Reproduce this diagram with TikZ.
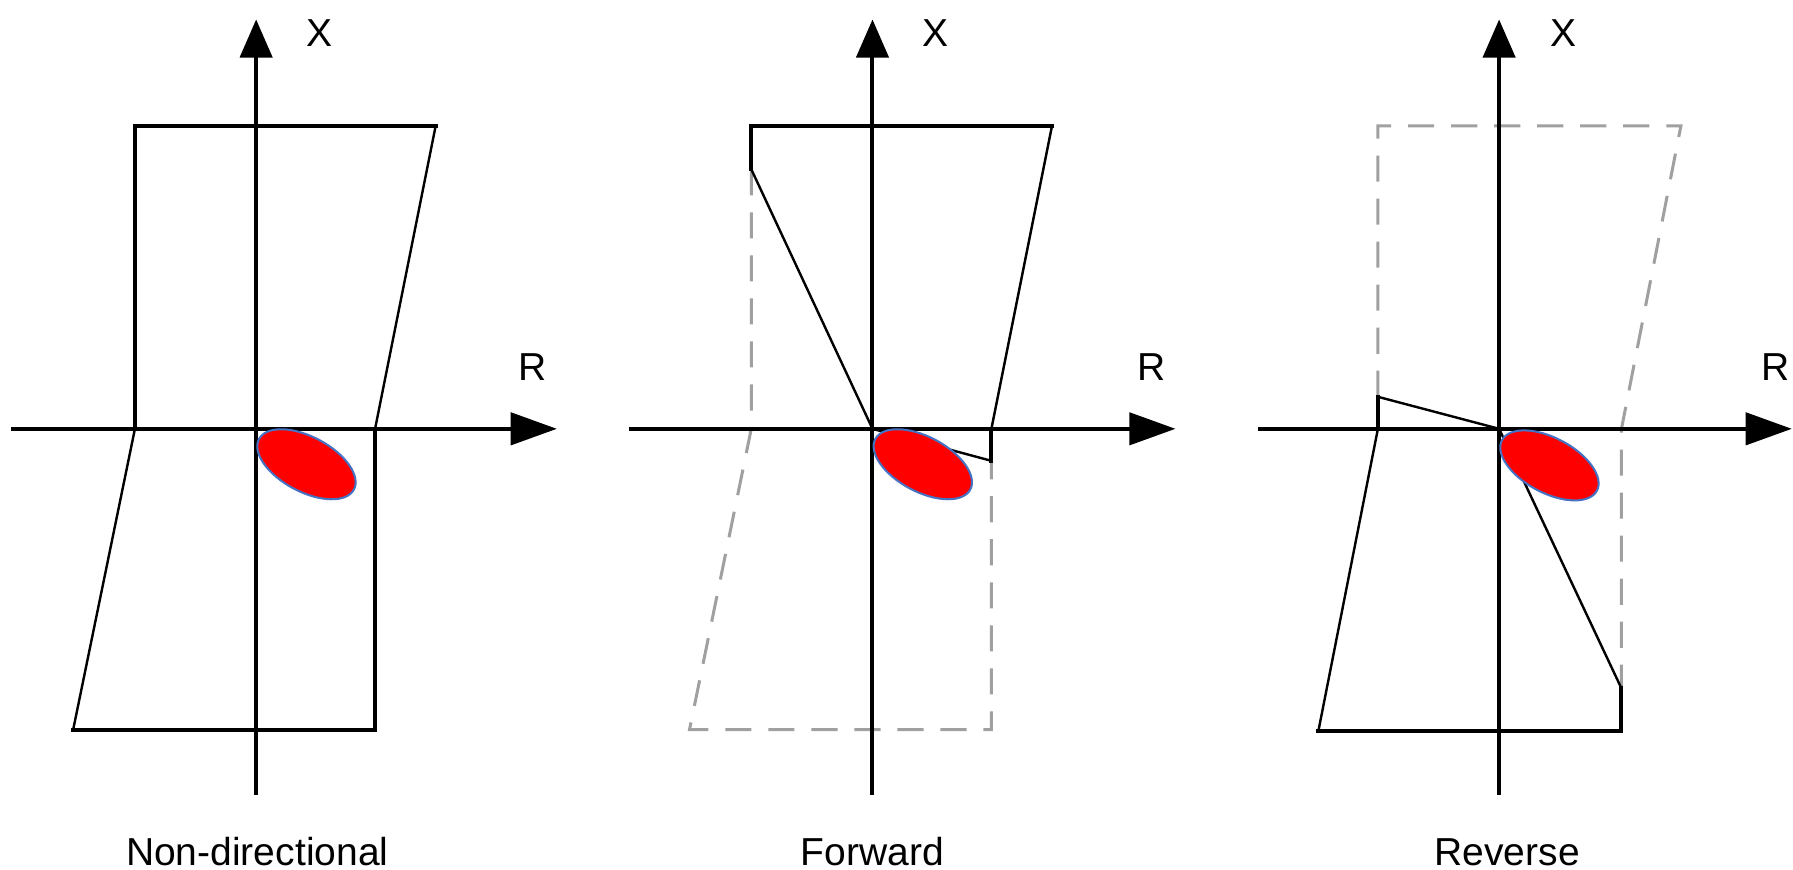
\documentclass[tikz,border=0pt]{standalone}
\usepackage{fontspec}
\setmainfont{Liberation Sans}
\usetikzlibrary{arrows.meta,shapes.geometric}
\definecolor{ghostgray}{RGB}{160,160,160}
\definecolor{blobblue}{RGB}{68,114,196}
\begin{document}
\begin{tikzpicture}[x=0.01cm,y=-0.01cm,
  vaxis/.style={line width=1pt,-{Triangle[length=9.5pt,width=8pt]}},
  haxis/.style={line width=1pt,-{Triangle[length=11.5pt,width=8pt]}},
  thick box/.style={line width=1pt,line join=miter,line cap=rect},
  thin box/.style={line width=0.6pt},
  ghost/.style={line width=0.75pt,ghostgray,dash pattern=on 6.5pt off 4.2pt},
  blob/.style={ellipse,draw=blobblue,line width=0.5pt,fill=red,minimum width=0.94cm,minimum height=0.48cm,inner sep=0pt,rotate=-28},
  lbl/.style={font=\fontsize{9.7}{11}\selectfont,inner sep=0pt,anchor=base}]
\useasboundingbox (0,0) rectangle (1568,760);
% ---------- Panel 1: Non-directional ----------
\coordinate (o1) at (224,375);
\coordinate (v1a) at (224,695); \coordinate (v1b) at (224,17);
\coordinate (h1a) at (10,375);  \coordinate (h1b) at (487,375);
\draw[thick box] (118,375) -- (118,110) -- (381,110);
\draw[thin box] (381,110) -- (328,375);
\draw[thin box] (118,375) -- (64,638);
\draw[thick box] (64,638) -- (328,638) -- (328,375);
\draw[vaxis] (v1a) -- (v1b);
\draw[haxis] (h1a) -- (h1b);
\node[blob] (e1) at (268,406) {};
\node[lbl] (x1) at (279,41) {X};
\node[lbl] (r1) at (466,333) {R};
\node[lbl] (c1) at (225,757) {Non-directional};
% ---------- Panel 2: Forward ----------
\coordinate (o2) at (763,375);
\coordinate (v2a) at (763,695); \coordinate (v2b) at (763,17);
\coordinate (h2a) at (550,375); \coordinate (h2b) at (1028,375);
\draw[ghost] (657,148) -- (657,375) -- (603,638) -- (867,638) -- (867,403);
\draw[thick box] (657,148) -- (657,110) -- (920,110);
\draw[thin box] (920,110) -- (867,375);
\draw[thick box] (867,375) -- (867,403);
\draw[thin box] (867,403) -- (o2);
\draw[thin box] (657,148) -- (o2);
\draw[vaxis] (v2a) -- (v2b);
\draw[haxis] (h2a) -- (h2b);
\node[blob] (e2) at (807,406) {};
\node[lbl] (x2) at (818,41) {X};
\node[lbl] (r2) at (1007,333) {R};
\node[lbl] (c2) at (763,757) {Forward};
% ---------- Panel 3: Reverse ----------
\coordinate (o3) at (1311,375);
\coordinate (v3a) at (1311,695); \coordinate (v3b) at (1311,17);
\coordinate (h3a) at (1100,375); \coordinate (h3b) at (1567,375);
\draw[ghost] (1205,347) -- (1205,110) -- (1470,110) -- (1418,375) -- (1418,602);
\draw[thick box] (1205,347) -- (1205,375);
\draw[thin box] (1205,375) -- (1153,639);
\draw[thick box] (1153,639) -- (1418,639) -- (1418,602);
\draw[thin box] (1418,602) -- (o3);
\draw[thin box] (1205,347) -- (o3);
\draw[vaxis] (v3a) -- (v3b);
\draw[haxis] (h3a) -- (h3b);
\node[blob] (e3) at (1355,407) {};
\node[lbl] (x3) at (1367,41) {X};
\node[lbl] (r3) at (1553,333) {R};
\node[lbl] (c3) at (1318,757) {Reverse};
\end{tikzpicture}
\end{document}
